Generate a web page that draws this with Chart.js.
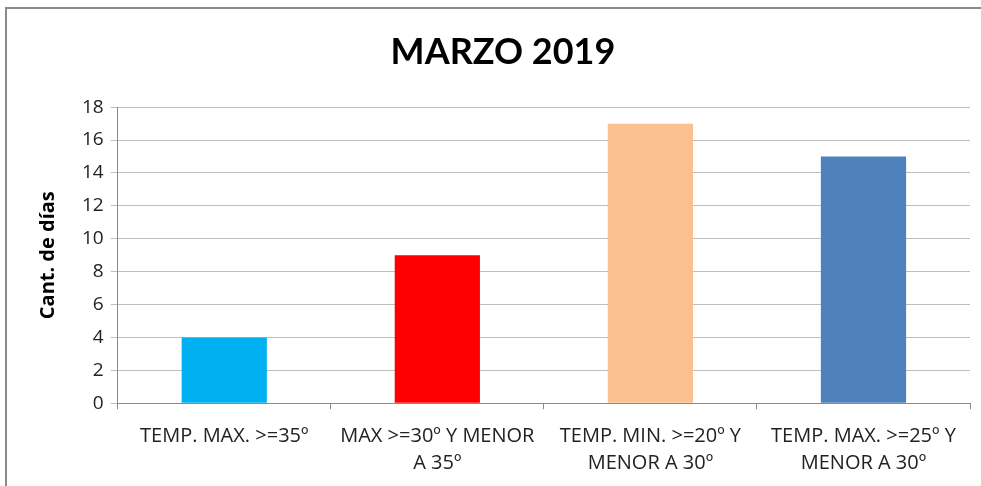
<!DOCTYPE html>
<html>
<head>
<meta charset="utf-8">
<script src="https://cdn.jsdelivr.net/npm/chart.js@4"></script>
<style>
  html, body { margin: 0; padding: 0; background: #fff; }
  #wrap { position: relative; width: 981px; height: 486px; }
  #frame { position: absolute; left: 5px; top: 7px; right: 0; bottom: 0;
           border-left: 2px solid #8a8a8a; border-top: 2px solid #8a8a8a; }
  canvas { position: absolute; left: 0; top: 0; }
</style>
</head>
<body>
<div id="wrap">
  <div id="frame"></div>
  <canvas id="chart" width="981" height="486"></canvas>
</div>
<script>
// datos del gráfico
const categorias = [
    ["TEMP. MAX. >=35º"],
    ["MAX >=30º Y MENOR", "A 35º"],
    ["TEMP. MIN. >=20º Y", "MENOR A 30º"],
    ["TEMP. MAX. >=25º Y", "MENOR A 30º"]
];
const dias = [4, 9, 17, 15];
const colores = ["#00B0F0", "#FF0000", "#FAC090", "#4F81BD"];
const titulo = "MARZO 2019";
const tituloEje = "Cant. de días";

const ctx = document.getElementById("chart").getContext("2d");
new Chart(ctx, {
    type: "bar",
    data: {
        labels: categorias,
        datasets: [{
            label: tituloEje,
            data: dias,
            backgroundColor: colores,
            barPercentage: 0.4,
            categoryPercentage: 1
        }]
    },
    options: {
        responsive: false,
        animation: false,
        layout: { padding: { left: 36, right: 11, top: 20, bottom: -4 } },
        plugins: {
            legend: { display: false },
            tooltip: { enabled: false },
            title: {
                display: true,
                text: titulo,
                color: "#000",
                font: { family: "Lato", size: 36, weight: "bold" },
                padding: { top: 11, bottom: 33 }
            }
        },
        scales: {
            y: {
                min: 0, max: 18,
                ticks: { stepSize: 2, color: "#222", padding: 7,
                         font: { family: "Open Sans", size: 19 } },
                grid: { color: "#BEBEBE", tickLength: 7 },
                border: { color: "#8a8a8a" },
                title: { display: true, text: tituloEje, color: "#000",
                         font: { family: "Open Sans", size: 20, weight: "bold" },
                         padding: { top: 0, bottom: 15 } }
            },
            x: {
                ticks: { color: "#222", padding: 14, maxRotation: 0, autoSkip: false,
                         font: { family: "Open Sans", size: 20, lineHeight: 1.32 } },
                grid: { offset: true, drawOnChartArea: false, drawTicks: true, tickLength: 6, color: "#8a8a8a" },
                border: { color: "#8a8a8a" }
            }
        }
    }
});
</script>
</body>
</html>
